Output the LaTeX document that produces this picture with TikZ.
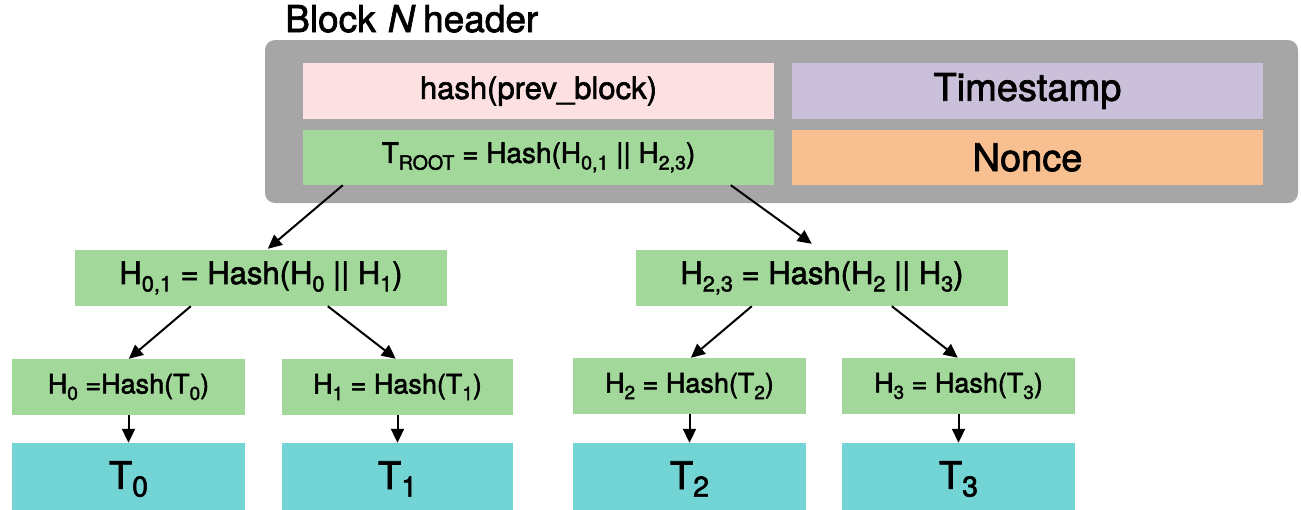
\documentclass[tikz,border=0pt]{standalone}
\usepackage{fontspec}
\setmainfont{TeX Gyre Heros}[FakeBold=2,AutoFakeSlant=0.2]
\usetikzlibrary{arrows.meta,calc}
\definecolor{hdrgrey}{HTML}{A6A6A6}
\definecolor{pinkc}{HTML}{FDE0E1}
\definecolor{purplec}{HTML}{CBC0DA}
\definecolor{greenc}{HTML}{A2D99B}
\definecolor{orangec}{HTML}{F8C091}
\definecolor{cyanc}{HTML}{72D4D4}
\newcommand\sub[1]{\raisebox{-0.24em}{\scalebox{0.7}{#1}}}
\newcommand\fs[1]{\fontsize{#1}{#1}\selectfont}
\begin{document}
\begin{tikzpicture}[x=1pt,y=-1pt,
  box/.style={rectangle,inner sep=0pt,anchor=center,text=black},
  arr/.style={line width=2pt,-{Triangle[length=14pt,width=13pt]}}]
\useasboundingbox (0,0) rectangle (1301,509);
% header
\node[box,fill=hdrgrey,rounded corners=10pt,minimum width=1033pt,minimum height=163pt] (hdr) at (781.5,121.5) {};
\node[anchor=base west,inner sep=0pt] (title) at (285,32) {\fs{37}Block \textit{N} header};
\node[box,fill=pinkc,minimum width=471pt,minimum height=56pt] (prev) at (538.5,91) {\fs{31}hash(prev\_block)};
\node[box,fill=purplec,minimum width=471pt,minimum height=56pt] (ts) at (1027.5,91) {\fs{38}Timestamp};
\node[box,fill=greenc,minimum width=471pt,minimum height=55pt] (root) at (538.5,157.5) {\fs{28}T\sub{ROOT} = Hash(H\sub{0,1} || H\sub{2,3})};
\node[box,fill=orangec,minimum width=471pt,minimum height=55pt] (nonce) at (1027.5,157.5) {\fs{38}Nonce};
% level 1
\node[box,fill=greenc,minimum width=372pt,minimum height=56pt] (h01) at (261,278) {\fs{31}H\sub{0,1} = Hash(H\sub{0} || H\sub{1})};
\node[box,fill=greenc,minimum width=372pt,minimum height=56pt] (h23) at (822,278) {\fs{31}H\sub{2,3} = Hash(H\sub{2} || H\sub{3})};
% level 2
\node[box,fill=greenc,minimum width=233pt,minimum height=56pt] (h0) at (128.5,387) {\fs{27}H\sub{0} =Hash(T\sub{0})};
\node[box,fill=greenc,minimum width=231pt,minimum height=56pt] (h1) at (397.5,387) {\fs{27}H\sub{1} = Hash(T\sub{1})};
\node[box,fill=greenc,minimum width=233pt,minimum height=56pt] (h2) at (689.5,386) {\fs{27}H\sub{2} = Hash(T\sub{2})};
\node[box,fill=greenc,minimum width=233pt,minimum height=56pt] (h3) at (958.5,386) {\fs{27}H\sub{3} = Hash(T\sub{3})};
% transactions
\node[box,fill=cyanc,minimum width=233pt,minimum height=72pt] (t0) at (128.5,479) {\fs{38}T\raisebox{-0.2em}{\scalebox{0.75}{0}}};
\node[box,fill=cyanc,minimum width=231pt,minimum height=72pt] (t1) at (397.5,479) {\fs{38}T\raisebox{-0.2em}{\scalebox{0.75}{1}}};
\node[box,fill=cyanc,minimum width=233pt,minimum height=72pt] (t2) at (689.5,479) {\fs{38}T\raisebox{-0.2em}{\scalebox{0.75}{2}}};
\node[box,fill=cyanc,minimum width=233pt,minimum height=72pt] (t3) at (958.5,479) {\fs{38}T\raisebox{-0.2em}{\scalebox{0.75}{3}}};
% arrows
\draw[arr] ($(root.south west)+(40,0)$) -- ($(h01.north west)+(193,-1)$);
\draw[arr] ($(root.south west)+(428,0)$) -- ($(h23.north west)+(176,-6)$);
\draw[arr] ($(h01.south west)+(116,0)$) -- ($(h0.north west)+(117,0)$);
\draw[arr] ($(h01.south west)+(253,0)$) -- ($(h1.north west)+(114,0)$);
\draw[arr] ($(h23.south west)+(116,0)$) -- ($(h2.north west)+(118,0)$);
\draw[arr] ($(h23.south west)+(256,0)$) -- ($(h3.north west)+(116,0)$);
\draw[arr] (h0.south) -- (t0.north);
\draw[arr] (h1.south) -- (t1.north);
\draw[arr] (h2.south) -- (t2.north);
\draw[arr] (h3.south) -- (t3.north);
\end{tikzpicture}
\end{document}
